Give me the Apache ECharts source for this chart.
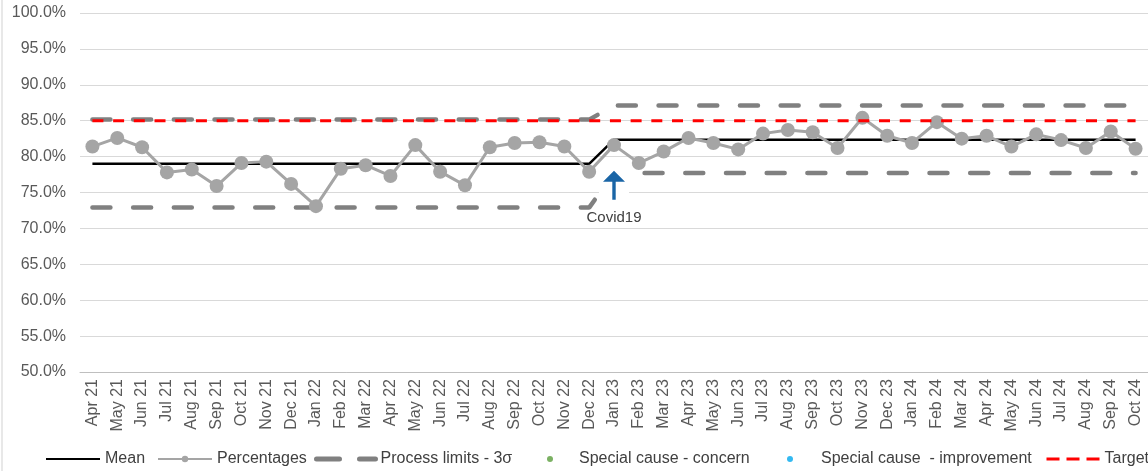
<!DOCTYPE html>
<html>
<head>
<meta charset="utf-8">
<script src="https://cdn.jsdelivr.net/npm/echarts@6/dist/echarts.min.js"></script>
<style>
html,body{margin:0;padding:0;background:#fff;}
#chart{width:1148px;height:471px;}
</style>
</head>
<body>
<div id="chart"></div>
<script>
const categories = ['Apr 21','May 21','Jun 21','Jul 21','Aug 21','Sep 21','Oct 21','Nov 21','Dec 21',
  'Jan 22','Feb 22','Mar 22','Apr 22','May 22','Jun 22','Jul 22','Aug 22','Sep 22','Oct 22','Nov 22','Dec 22',
  'Jan 23','Feb 23','Mar 23','Apr 23','May 23','Jun 23','Jul 23','Aug 23','Sep 23','Oct 23','Nov 23','Dec 23',
  'Jan 24','Feb 24','Mar 24','Apr 24','May 24','Jun 24','Jul 24','Aug 24','Sep 24','Oct 24'];

const percentages = [81.4,82.6,81.3,77.8,78.2,75.9,79.1,79.3,76.2,
  73.1,78.3,78.8,77.3,81.6,77.9,76.0,81.3,81.9,82.0,81.4,77.9,
  81.6,79.1,80.7,82.6,81.9,81.0,83.2,83.7,83.4,81.2,85.4,82.9,
  81.9,84.8,82.5,82.9,81.4,83.1,82.3,81.2,83.5,81.1];

const meanValues = [79.0,79.0,79.0,79.0,79.0,79.0,79.0,79.0,79.0,
  79.0,79.0,79.0,79.0,79.0,79.0,79.0,79.0,79.0,79.0,79.0,79.0,
  82.35,82.35,82.35,82.35,82.35,82.35,82.35,82.35,82.35,82.35,82.35,82.35,
  82.35,82.35,82.35,82.35,82.35,82.35,82.35,82.35,82.35,82.35];

const upperLimit = [85.15,85.15,85.15,85.15,85.15,85.15,85.15,85.15,85.15,
  85.15,85.15,85.15,85.15,85.15,85.15,85.15,85.15,85.15,85.15,85.15,85.15,
  87.1,87.1,87.1,87.1,87.1,87.1,87.1,87.1,87.1,87.1,87.1,87.1,
  87.1,87.1,87.1,87.1,87.1,87.1,87.1,87.1,87.1,87.1];

const lowerLimit = [72.9,72.9,72.9,72.9,72.9,72.9,72.9,72.9,72.9,
  72.9,72.9,72.9,72.9,72.9,72.9,72.9,72.9,72.9,72.9,72.9,72.9,
  77.7,77.7,77.7,77.7,77.7,77.7,77.7,77.7,77.7,77.7,77.7,77.7,
  77.7,77.7,77.7,77.7,77.7,77.7,77.7,77.7,77.7,77.7];

const targetValues = [85,85,85,85,85,85,85,85,85,
  85,85,85,85,85,85,85,85,85,85,85,85,
  85,85,85,85,85,85,85,85,85,85,85,85,
  85,85,85,85,85,85,85,85,85,85];

const concernPoints = [];
const improvementPoints = [];

const annotationCategory = 'Jan 23';
const annotationValue = 76.0;
const annotationText = 'Covid19';

const yMin = 50, yMax = 100, yInterval = 5;

const FONT = '"Liberation Sans", Arial, sans-serif';
const TXT = '#404040';

function legendBox(name, left, itemWidth, itemHeight, hideSymbol, lineStyle) {
  const l = {
    data: [name], left: left, top: 451, orient: 'horizontal',
    itemWidth: itemWidth, itemHeight: itemHeight, itemGap: 0,
    selectedMode: false, padding: 0,
    textStyle: { fontFamily: FONT, fontSize: 16, color: TXT }
  };
  if (hideSymbol) l.itemStyle = { opacity: 0 };
  if (lineStyle) l.lineStyle = lineStyle;
  return l;
}

const chart = echarts.init(document.getElementById('chart'), null, { renderer: 'canvas' });
chart.setOption({
  animation: false,
  backgroundColor: '#ffffff',
  grid: { left: 80, right: 0, top: 13, bottom: 99, containLabel: false },
  graphic: [{ type: 'rect', left: 1, top: 0, shape: { width: 2, height: 471 }, style: { fill: '#E8E8E8' }, silent: true }],
  legend: [
    legendBox('Mean', 45, 54, 14, true),
    legendBox('Percentages', 157, 54, 8, false),
    legendBox('Process limits - 3σ', 314, 59, 14, true, { width: 5, type: [23, 20], cap: 'round', color: '#808080' }),
    legendBox('Special cause - concern', 547, 48, 6, false),
    legendBox('Special cause  - improvement', 787, 52, 6, false),
    legendBox('Target', 1045, 53, 14, true, { width: 3, type: [13, 7], color: '#FF0000' })
  ],
  xAxis: {
    type: 'category', data: categories, boundaryGap: true,
    axisLine: { lineStyle: { color: '#BFBFBF', width: 1 } },
    axisTick: { show: false },
    axisLabel: { interval: 0, rotate: 90, margin: 7, fontFamily: FONT, fontSize: 16, color: '#595959' },
    splitLine: { show: false }
  },
  yAxis: {
    type: 'value', min: yMin, max: yMax, interval: yInterval,
    axisLine: { show: false }, axisTick: { show: false },
    axisLabel: { margin: 14, fontFamily: FONT, fontSize: 16, color: '#595959',
      formatter: v => v.toFixed(1) + '%' },
    splitLine: { lineStyle: { color: '#D9D9D9', width: 1 } }
  },
  series: [
    { name: 'Mean', type: 'line', data: meanValues, symbol: 'none', z: 3,
      lineStyle: { color: '#000000', width: 2.5 }, itemStyle: { color: '#000000' } },
    { name: 'Process limits - 3σ', type: 'line', data: upperLimit, symbol: 'none', z: 2,
      lineStyle: { color: '#808080', width: 4.5, type: [18, 22.7], cap: 'round' }, itemStyle: { color: '#808080' } },
    { name: 'Process limits - 3σ', type: 'line', data: lowerLimit, symbol: 'none', z: 2,
      lineStyle: { color: '#808080', width: 4.5, type: [18, 22.7], cap: 'round' }, itemStyle: { color: '#808080' } },
    { name: 'Percentages', type: 'line', data: percentages, symbol: 'circle', symbolSize: 14, z: 4,
      lineStyle: { color: '#A5A5A5', width: 3 }, itemStyle: { color: '#A5A5A5' },
      markPoint: {
        silent: true,
        data: [
          { coord: [annotationCategory, annotationValue], symbol: 'rect', symbolSize: [30, 34],
            itemStyle: { color: '#ffffff' }, label: { show: false } },
          { coord: [annotationCategory, annotationValue],
            symbol: 'path://M11,0 L22,11 L12.7,11 L12.7,29 L9.3,29 L9.3,11 L0,11 Z',
            symbolSize: [22, 29], itemStyle: { color: '#1A65A6' },
            label: { show: true, position: 'bottom', distance: 11, formatter: annotationText,
              fontFamily: FONT, fontSize: 15, color: TXT } }
        ]
      } },
    { name: 'Special cause - concern', type: 'scatter', data: concernPoints, symbol: 'circle', symbolSize: 8,
      itemStyle: { color: '#5A9E3C' } },
    { name: 'Special cause  - improvement', type: 'scatter', data: improvementPoints, symbol: 'circle', symbolSize: 8,
      itemStyle: { color: '#00A8EE' } },
    { name: 'Target', type: 'line', data: targetValues, symbol: 'none', z: 5,
      lineStyle: { color: '#FF0000', width: 3, type: [11, 9.7] }, itemStyle: { color: '#FF0000' } }
  ]
});
</script>
</body>
</html>
